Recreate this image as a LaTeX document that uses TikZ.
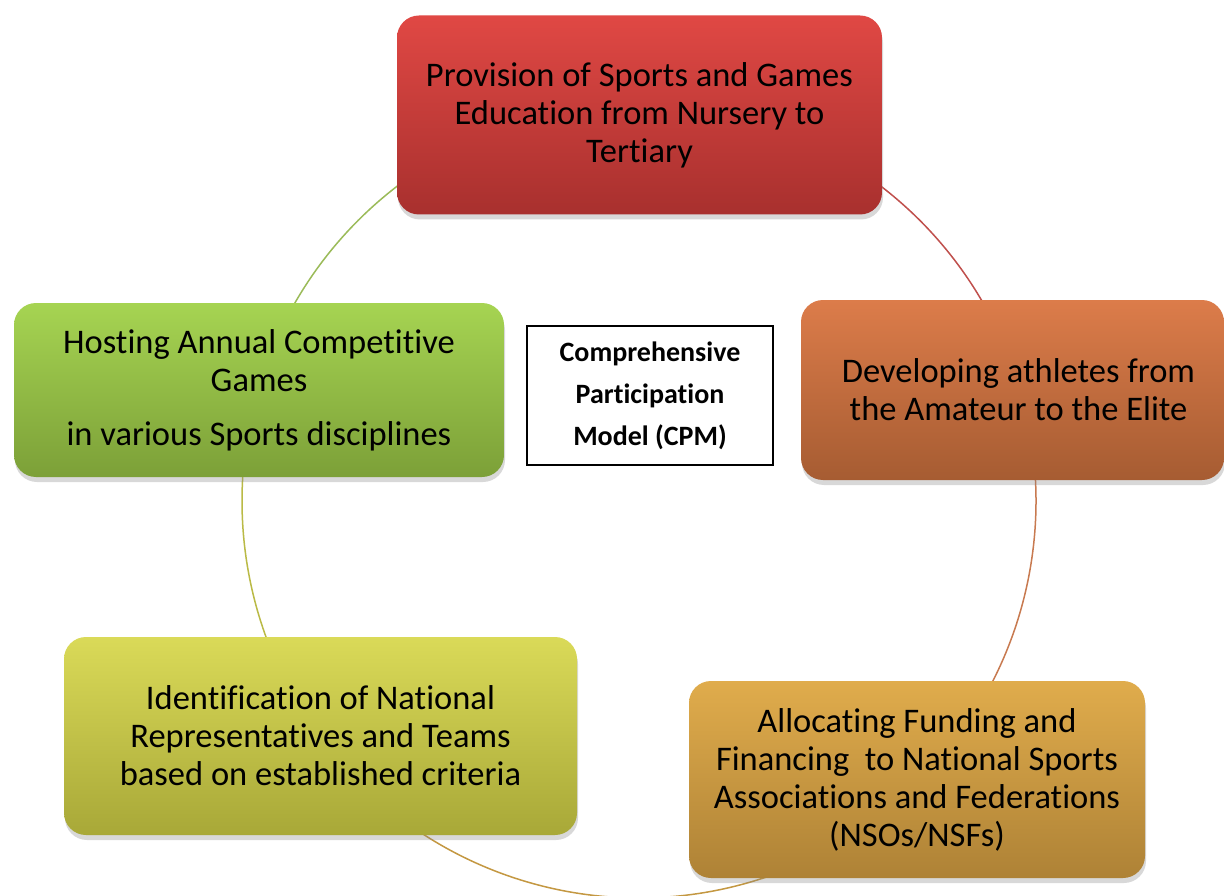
\documentclass[tikz,border=0pt]{standalone}
\usepackage{fontspec}
\setmainfont[Ligatures={NoCommon}]{Carlito}
\usetikzlibrary{shadows}
\definecolor{redT}{RGB}{224,72,68}
\definecolor{redB}{RGB}{168,48,46}
\definecolor{oraT}{RGB}{220,124,74}
\definecolor{oraB}{RGB}{166,92,50}
\definecolor{golT}{RGB}{224,172,76}
\definecolor{golB}{RGB}{174,130,54}
\definecolor{yelT}{RGB}{218,218,88}
\definecolor{yelB}{RGB}{168,168,56}
\definecolor{grnT}{RGB}{166,212,82}
\definecolor{grnB}{RGB}{124,160,56}
\definecolor{redL}{RGB}{192,80,77}
\definecolor{oraL}{RGB}{200,122,80}
\definecolor{golL}{RGB}{196,152,66}
\definecolor{yelL}{RGB}{186,186,70}
\definecolor{grnL}{RGB}{155,187,89}
\tikzset{
  cpmbox/.style={rounded corners=22pt, draw=none, align=center, text=black,
    font=\fontsize{34.5}{38}\selectfont, inner sep=0pt,
    drop shadow={opacity=0.3, shadow xshift=1pt, shadow yshift=-5pt}},
  ring/.style={line width=1.5pt}
}
\begin{document}
\begin{tikzpicture}[x=1pt,y=-1pt]
\useasboundingbox (0,0) rectangle (1224,896);
\fill[white] (0,0) rectangle (1224,896);
\begin{scope}
\clip (0,0) rectangle (1224,896);
\coordinate (c) at (639,501);
\draw[ring,redL] (c) ++(-90:397) arc[start angle=-90, end angle=-17, radius=397];
\draw[ring,oraL] (c) ++(-17:397) arc[start angle=-17, end angle=47, radius=397];
\draw[ring,golL] (c) ++(47:397) arc[start angle=47, end angle=143, radius=397];
\draw[ring,yelL] (c) ++(143:397) arc[start angle=143, end angle=196, radius=397];
\draw[ring,grnL] (c) ++(196:397) arc[start angle=196, end angle=270, radius=397];

\node[cpmbox, top color=redT, bottom color=redB, minimum width=485pt, minimum height=199pt] (red) at (639.5,115)
  {Provision of Sports and Games\\Education from Nursery to\\Tertiary};
\node[cpmbox, top color=oraT, bottom color=oraB, minimum width=423pt, minimum height=180pt] (ora) at (1012.5,390)
  {\hspace*{12pt}Developing athletes from\\\hspace*{12pt}the Amateur to the Elite};
\node[cpmbox, top color=golT, bottom color=golB, minimum width=456pt, minimum height=197pt] (gol) at (917,779.5)
  {Allocating Funding and\\Financing\ \ to National Sports\\Associations and Federations\\(NSOs/NSFs)};
\node[cpmbox, top color=yelT, bottom color=yelB, minimum width=513pt, minimum height=198pt] (yel) at (320.5,736)
  {Identification of National\\Representatives and Teams\\based on established criteria};
\node[cpmbox, top color=grnT, bottom color=grnB, minimum width=490pt, minimum height=174pt] (grn) at (259,390)
  {Hosting Annual Competitive\\Games\\[16pt]in various Sports disciplines};
\node[draw=black, line width=1.2pt, fill=white, align=center, inner sep=0pt,
  minimum width=246pt, minimum height=139pt, font=\bfseries\fontsize{28}{42}\selectfont] (cpm) at (650,395.5)
  {Comprehensive\\Participation\\Model (CPM)};
\end{scope}
\end{tikzpicture}
\end{document}
